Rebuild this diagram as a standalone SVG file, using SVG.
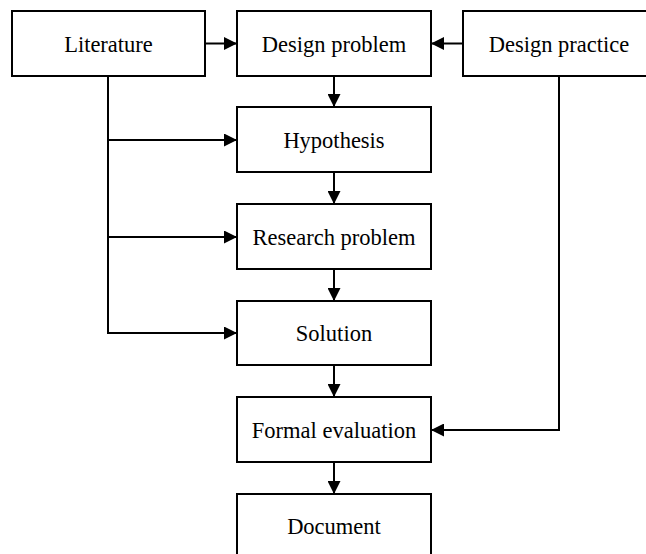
<svg xmlns="http://www.w3.org/2000/svg" width="646" height="554" viewBox="0 0 646 554">
  <style>
    .box { fill: #ffffff; stroke: #000000; stroke-width: 2; }
    .lbl { font-family: 'Liberation Serif', 'Times New Roman', Times, 'DejaVu Serif', serif; font-size: 22.5px; fill: #000000; text-anchor: middle; }
    .edge { fill: none; stroke: #000000; stroke-width: 2; }
    .arr { marker-end: url(#head); }
  </style>
  <defs>
    <marker id="head" markerUnits="userSpaceOnUse" markerWidth="13" markerHeight="13" refX="13" refY="6.5" orient="auto">
      <path d="M0,0 L13,6.5 L0,13 Z" fill="#000000"/>
    </marker>
  </defs>
  <rect width="646" height="554" fill="#ffffff"/>

  <g id="connectors">
    <path class="edge arr" d="M205,43.5 H237"/>
    <path class="edge arr" d="M463,43.5 H431"/>
    <path class="edge arr" d="M334,76 V107"/>
    <path class="edge arr" d="M334,172 V204"/>
    <path class="edge arr" d="M334,269 V301"/>
    <path class="edge arr" d="M334,365 V397"/>
    <path class="edge arr" d="M334,462 V494"/>
    <path class="edge" d="M108,76 V333"/>
    <path class="edge arr" d="M107,140 H237"/>
    <path class="edge arr" d="M107,237 H237"/>
    <path class="edge arr" d="M107,333 H237"/>
    <path class="edge arr" d="M559,76 V430 H431"/>
  </g>

  <g id="literature">
    <rect class="box" x="12" y="11" width="193" height="65"/>
    <text class="lbl" font-family="Liberation Serif, serif" x="108.5" y="51.5">Literature</text>
  </g>
  <g id="design-problem">
    <rect class="box" x="237" y="11" width="194" height="65"/>
    <text class="lbl" x="334" y="51.5">Design problem</text>
  </g>
  <g id="design-practice">
    <rect class="box" x="463" y="11" width="194" height="65"/>
    <text class="lbl" x="559" y="51.5">Design practice</text>
  </g>
  <g id="hypothesis">
    <rect class="box" x="237" y="107" width="194" height="65"/>
    <text class="lbl" x="334" y="147.5">Hypothesis</text>
  </g>
  <g id="research-problem">
    <rect class="box" x="237" y="204" width="194" height="65"/>
    <text class="lbl" x="334" y="244.5">Research problem</text>
  </g>
  <g id="solution">
    <rect class="box" x="237" y="301" width="194" height="64"/>
    <text class="lbl" x="334" y="341">Solution</text>
  </g>
  <g id="formal-evaluation">
    <rect class="box" x="237" y="397" width="194" height="65"/>
    <text class="lbl" x="334" y="437.5">Formal evaluation</text>
  </g>
  <g id="document">
    <rect class="box" x="237" y="494" width="194" height="65"/>
    <text class="lbl" x="334" y="534">Document</text>
  </g>
</svg>
